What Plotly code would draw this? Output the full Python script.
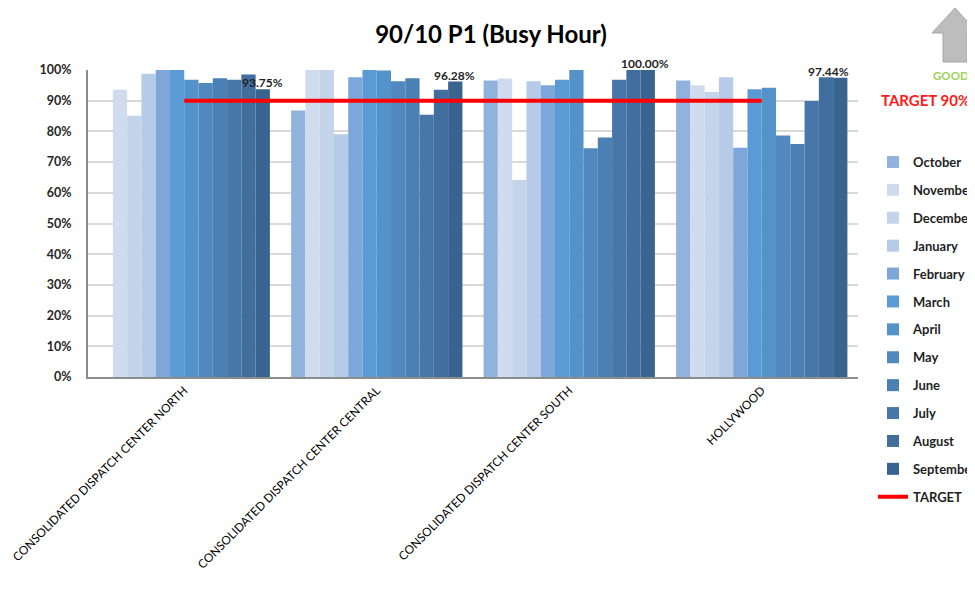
import plotly.graph_objects as go

centers = ["CONSOLIDATED DISPATCH CENTER NORTH", "CONSOLIDATED DISPATCH CENTER CENTRAL",
           "CONSOLIDATED DISPATCH CENTER SOUTH", "HOLLYWOOD"]
months = ["October", "November", "December", "January", "February", "March",
          "April", "May", "June", "July", "August", "September"]

october   = [None, 0.868, 0.966, 0.966]
november  = [0.936, 1.000, 0.972, 0.950]
december  = [0.851, 1.000, 0.642, 0.928]
january   = [0.988, 0.791, 0.963, 0.976]
february  = [1.000, 0.976, 0.950, 0.747]
march     = [1.000, 1.000, 0.968, 0.937]
april     = [0.968, 0.998, 1.000, 0.942]
may       = [0.958, 0.963, 0.745, 0.787]
june      = [0.973, 0.973, 0.780, 0.759]
july      = [0.968, 0.854, 0.968, 0.899]
august    = [0.985, 0.936, 1.000, 0.976]
september = [0.9375, 0.9628, 1.000, 0.9744]
target    = [0.90, 0.90, 0.90, 0.90]

series = [october, november, december, january, february, march,
          april, may, june, july, august, september]
colors = ["#92B2DE", "#D0DCEE", "#C4D4EA", "#B6CBE7", "#7DA7D9", "#5B9BD5",
          "#5592CA", "#5088BF", "#4B80B5", "#4777A9", "#426E9E", "#3A6490"]

FONT = "Lato"
fig = go.Figure()
for name, vals, col in zip(months, series, colors):
    fig.add_trace(go.Bar(x=centers, y=vals, name=name, marker_color=col,
                         marker_line_width=0, legendgroup=name))
fig.add_trace(go.Scatter(x=centers, y=target, name="TARGET", mode="lines",
                         line=dict(color="#FF0000", width=4), legendgroup="TARGET"))

# September data labels (placed as in the reference, above the plot area)
label_y = [0.991, 1.014, 1.053, 1.027]
label_dx = [78, 78, 76, 67]
for c, v, ly, dx in zip(centers, september, label_y, label_dx):
    fig.add_annotation(x=c, y=ly, xref="x", yref="paper", text="<b>%.2f%%</b>" % (v * 100),
                       showarrow=False, xshift=dx, font=dict(family=FONT, size=12, color="#1F1F1F"))

OFF = 8  # page body margin
W, H = 975, 607
L, R, T, B = 88 - OFF, 858 - OFF, 70 - OFF, 377 - OFF
def px(x):
    return (x - OFF - L) / (R - L)
def py(y):
    return (B - (y - OFF)) / (B - T)

# gray up arrow (GOOD direction)
pts = [(955, 8), (932, 33), (943, 33), (943, 62), (967, 62), (967, 33), (978, 33)]
path = "M " + " L ".join("%.4f,%.4f" % (px(a), py(b)) for a, b in pts) + " Z"
fig.add_shape(type="path", path=path, xref="paper", yref="paper",
              fillcolor="#BDBDBD", line=dict(color="#A6A6A6", width=1))
fig.add_annotation(x=px(931), y=py(75), xref="paper", yref="paper", text="<b>GOOD</b>",
                   showarrow=False, xanchor="left", yanchor="middle",
                   font=dict(family=FONT, size=11.5, color="#9BD25A"))
fig.add_annotation(x=px(879), y=py(100), xref="paper", yref="paper", text="<b>TARGET 90%</b>",
                   showarrow=False, xanchor="left", yanchor="middle",
                   font=dict(family=FONT, size=15, color="#FF1A1A"))
# top border line
fig.add_shape(type="line", x0=px(0), x1=px(990), y0=py(5), y1=py(5), xref="paper", yref="paper",
              line=dict(color="#BFBFBF", width=2))

fig.update_layout(
    width=W, height=H,
    margin=dict(l=L, r=W - R, t=T, b=H - B, autoexpand=False),
    paper_bgcolor="white", plot_bgcolor="white",
    barmode="group", bargap=0.11, bargroupgap=0,
    title=dict(text="<b>90/10 P1 (Busy Hour)</b>", x=(491 - OFF) / W, xanchor="center",
               y=1 - (35 - OFF) / H, yanchor="middle", font=dict(family=FONT, size=24, color="#000000")),
    font=dict(family=FONT, color="#000000"),
    showlegend=True,
    legend=dict(xref="container", yref="container", x=(873 - OFF) / W, y=1 - (147 - OFF) / H,
                xanchor="left", yanchor="top", maxheight=1,
                font=dict(family=FONT, size=13, color="#1F1F1F", weight="bold"),
                tracegroupgap=8, itemwidth=30, bgcolor="rgba(0,0,0,0)"),
    xaxis=dict(tickangle=-45, tickfont=dict(family=FONT, size=11.8, color="#000000"),
               showline=True, linecolor="#8C8C8C", linewidth=2, showgrid=False,
               ticks="", automargin=False),
    yaxis=dict(range=[0, 1.0], tickformat=".0%", dtick=0.1,
               tickfont=dict(family=FONT, size=12.5, color="#262626", weight="bold"),
               showline=True, linecolor="#8C8C8C", linewidth=2, automargin=False,
               gridcolor="#D9D9D9", gridwidth=2, ticklabelstandoff=12, zeroline=False),
)

fig.write_html("out.html")
